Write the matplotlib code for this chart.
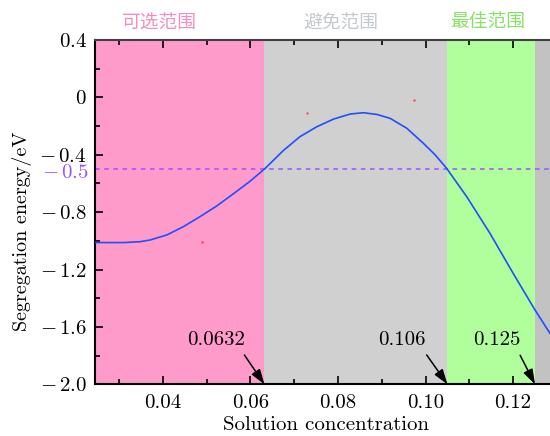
import matplotlib
matplotlib.use("Agg")
import matplotlib.pyplot as plt
from matplotlib.ticker import MultipleLocator

plt.rcParams["font.family"] = "serif"
plt.rcParams["font.serif"] = ["cmr10", "DejaVu Serif"]
plt.rcParams["mathtext.fontset"] = "cm"
plt.rcParams["axes.formatter.use_mathtext"] = True

# curve
conc = [0.0245, 0.0280, 0.0310, 0.0348, 0.0371, 0.0409, 0.0447, 0.0485, 0.0523,
        0.0561, 0.0599, 0.0634, 0.0675, 0.0713, 0.0752, 0.0790, 0.0828, 0.0858,
        0.0889, 0.0919, 0.0957, 0.0995, 0.1022, 0.1048, 0.1094, 0.1147, 0.1200,
        0.1250, 0.1284, 0.1300]
energy = [-1.012, -1.012, -1.012, -1.006, -0.994, -0.959, -0.901, -0.831, -0.757,
          -0.672, -0.585, -0.494, -0.371, -0.274, -0.204, -0.151, -0.116, -0.107,
          -0.119, -0.146, -0.215, -0.320, -0.401, -0.494, -0.692, -0.947, -1.226,
          -1.482, -1.644, -1.720]

# stray data points
pts_x = [0.049, 0.073, 0.0974]
pts_y = [-1.008, -0.109, -0.018]

# regions
bounds = [0.0245, 0.0632, 0.105, 0.125, 0.13]
region_colors = ["#ff9bcb", "#d0d0d0", "#b0ff9c", "#c2c2c2"]
region_names = ["可选范围", "避免范围", "最佳范围"]
name_x = [0.0392, 0.0806, 0.1141]
name_colors = ["#f28ec0", "#c4c9cd", "#86e266"]

# annotations
ann_labels = ["0.0632", "0.106", "0.125"]
ann_tip = [0.0632, 0.105, 0.125]
ann_text_x = [0.0521, 0.0947, 0.1163]
ann_text_y = -1.69

threshold = -0.5

yticks = [0.4, 0.0, -0.4, -0.8, -1.2, -1.6, -2.0]
ylabels = ["$0.4$", "$0$", r"$-\,0.4$", r"$-\,0.8$", r"$-\,1.2$", r"$-\,1.6$", r"$-\,2.0$"]
xticks = [0.04, 0.06, 0.08, 0.10, 0.12]
xlabels = ["0.04", "0.06", "0.08", "0.10", "0.12"]

fig = plt.figure(figsize=(5.5, 4.36), dpi=100)
ax = fig.add_axes([95 / 550, 51.7 / 436, 461.9 / 550, 344.3 / 436])

for i in range(len(region_colors)):
    ax.axvspan(bounds[i], bounds[i + 1], color=region_colors[i], lw=0, zorder=0)

ax.plot(conc, energy, color="#1f4fff", lw=1.2, zorder=3)
ax.plot(pts_x, pts_y, "s", color="#ff3030", ms=1.4, mew=0, zorder=3)
ax.axhline(threshold, color="#a050ff", lw=1.1, dashes=(3, 3), zorder=2)

ax.set_xlim(bounds[0], bounds[-1])
ax.set_ylim(-2.0, 0.4)
ax.set_xticks(xticks)
ax.set_xticklabels(xlabels)
ax.set_yticks(yticks)
ax.set_yticklabels(ylabels)
ax.xaxis.set_minor_locator(MultipleLocator(0.01))
ax.yaxis.set_minor_locator(MultipleLocator(0.2))
ax.tick_params(which="both", direction="in", top=True, right=False, labelsize=15, width=1.2)
ax.tick_params(which="major", length=6)
ax.tick_params(which="minor", length=3.5)
ax.tick_params(axis="x", pad=7)
ax.tick_params(axis="y", pad=6)
for s in ["left", "bottom"]:
    ax.spines[s].set_linewidth(1.5)
ax.spines["top"].set_color("#404040")
ax.spines["top"].set_linewidth(1.5)
ax.spines["right"].set_visible(False)

ax.text(-0.013, threshold - 0.025, r"$-\,0.5$", color="#a050ff", fontsize=15,
        ha="right", va="center", transform=ax.get_yaxis_transform())

ax.set_xlabel("Solution concentration", fontsize=15, labelpad=3)
ax.set_ylabel("Segregation energy/eV", fontsize=14.5)
ax.yaxis.set_label_coords(-0.137, 0.445)

for name, x, c in zip(region_names, name_x, name_colors):
    ax.text(x, 1.053, name, color=c, fontsize=13.5, ha="center", va="center",
            family=["Noto Sans CJK SC", "DejaVu Sans"],
            transform=ax.get_xaxis_transform())

for lab, tip, tx in zip(ann_labels, ann_tip, ann_text_x):
    ax.annotate(lab, xy=(tip, -2.0), xytext=(tx, ann_text_y), fontsize=15,
                ha="center", va="center", zorder=5,
                arrowprops=dict(arrowstyle="-|>,head_length=0.6,head_width=0.2",
                                color="black", lw=1.1, mutation_scale=15,
                                relpos=(0.92, 0.0), shrinkA=3, shrinkB=0))

fig.savefig("out.png", dpi=100)
